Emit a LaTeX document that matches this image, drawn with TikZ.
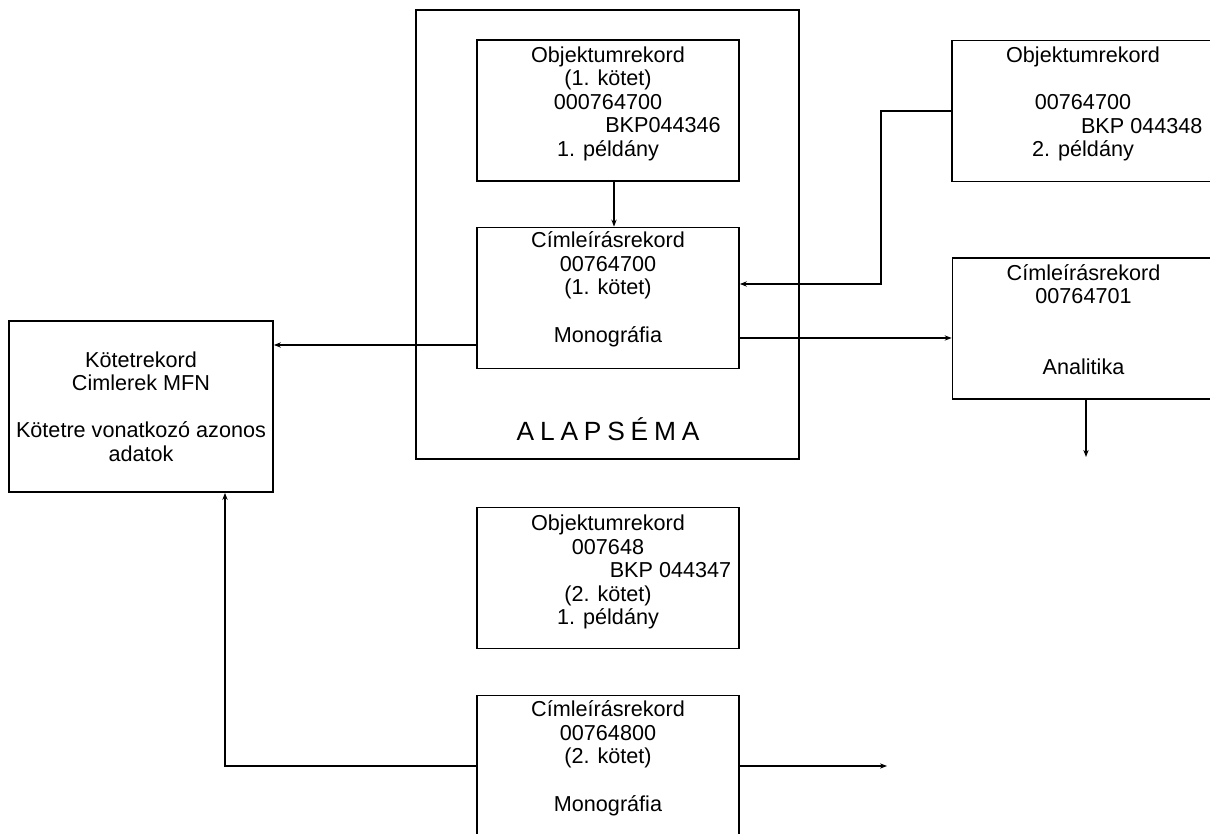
\documentclass[tikz,border=0pt]{standalone}
\usepackage{fontspec}
\setmainfont{Liberation Sans}
\usetikzlibrary{arrows.meta}

\newcommand{\ls}{\hspace{3.3pt}}

\tikzset{
  rec/.style={draw, line width=1pt, minimum width=5.24cm, minimum height=2.82cm, inner sep=0pt},
  txt/.style={align=center, inner sep=0pt, anchor=north, font=\fontsize{12.3}{13.4}\selectfont},
  arr/.style={line width=0.8pt, -{Stealth[length=4pt,width=3pt]}},
}

\begin{document}
\begin{tikzpicture}[x=0.02cm, y=-0.02cm]
  \useasboundingbox (0,0) rectangle (1210,834);

  % alapsema frame
  \node[rec, minimum width=7.66cm, minimum height=8.98cm] (alap) at (607.5,234.5) {};
  \node[txt, anchor=base, font=\fontsize{15}{16}\selectfont] (alapname) at (608,440)
    {A\ls L\ls A\ls P\ls S\ls É\ls M\ls A};

  % 1. kotet, 1. peldany
  \node[rec] (obj1) at (608,110.5) {};
  \node[txt] (obj1txt) at ([yshift=-0.14cm]obj1.north)
    {Objektumrekord\\(1. kötet)\\000764700\\\hspace*{2.2cm}BKP044346\\1. példány};

  % cimleiras 1. kotet
  \node[rec] (cim1) at (608,298) {};
  \node[txt] (cim1txt) at ([yshift=-0.1cm]cim1.north)
    {Címleírásrekord\\00764700\\(1. kötet)\\[13.4pt]Monográfia};

  % 2. peldany
  \node[rec] (obj2) at (1083,111) {};
  \node[txt] (obj2txt) at ([yshift=-0.14cm]obj2.north)
    {Objektumrekord\\[13.4pt]00764700\\\hspace*{2.35cm}BKP 044348\\2. példány};

  % analitika
  \node[rec] (cim2) at (1083.5,328.5) {};
  \node[txt] (cim2txt) at ([yshift=-0.14cm]cim2.north)
    {Címleírásrekord\\00764701\\[26.8pt]Analitika};

  % kotetrekord
  \node[rec, minimum width=5.28cm, minimum height=3.42cm] (kotet) at (141,406.5) {};
  \node[txt] (kotettxt) at ([yshift=-0.62cm]kotet.north)
    {Kötetrekord\\Cimlerek MFN\\[13.4pt]Kötetre vonatkozó azonos\\adatok};

  % 2. kotet
  \node[rec] (obj3) at (608,578) {};
  \node[txt] (obj3txt) at ([yshift=-0.16cm]obj3.north)
    {Objektumrekord\\007648\\\hspace*{2.5cm}BKP 044347\\(2. kötet)\\1. példány};

  \node[rec] (cim3) at (608,766) {};
  \node[txt] (cim3txt) at ([yshift=-0.12cm]cim3.north)
    {Címleírásrekord\\00764800\\(2. kötet)\\[13.4pt]Monográfia};

  % connectors
  \draw[arr] ([xshift=0.12cm]obj1.south) -- ([xshift=0.12cm]cim1.north);
  \draw[arr] (obj2.west) -- ++(-70,0) |- ([yshift=0.28cm]cim1.east);
  \draw[arr] ([yshift=-0.8cm]cim1.east) -- ([yshift=-0.8cm]cim1.east -| cim2.west);
  \draw[arr] ([yshift=-0.94cm]cim1.west) -- ([yshift=-0.94cm]cim1.west -| kotet.east);
  \draw[arr] (cim3.west) -| ([xshift=1.68cm]kotet.south);

  % loose ends
  \coordinate (end3) at (887,766);
  \draw[arr] (cim3.east) -- (end3);
  \coordinate (end2) at (1086,457);
  \draw[arr] (cim2.south -| end2) -- (end2);
\end{tikzpicture}
\end{document}
